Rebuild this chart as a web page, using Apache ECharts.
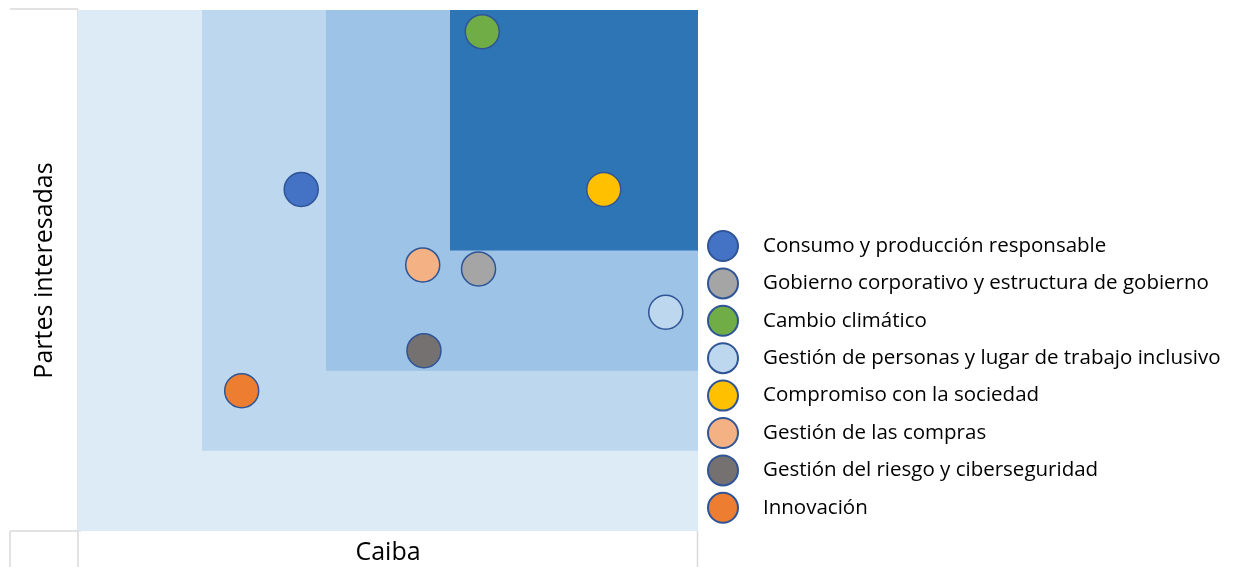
<!DOCTYPE html>
<html>
<head>
<meta charset="utf-8">
<script src="https://cdn.jsdelivr.net/npm/echarts@6/dist/echarts.min.js"></script>
<style>
  html, body { margin: 0; padding: 0; background: #fff; }
  #main { width: 1255px; height: 567px; }
</style>
</head>
<body>
<div id="main"></div>
<script>
'use strict';

// temas materiales
var names = [
    'Consumo y producción responsable',
    'Gobierno corporativo y estructura de gobierno',
    'Cambio climático',
    'Gestión de personas y lugar de trabajo inclusivo',
    'Compromiso con la sociedad',
    'Gestión de las compras',
    'Gestión del riesgo y ciberseguridad',
    'Innovación'
];
var caiba = [1.80, 3.23, 3.26, 4.74, 4.24, 2.78, 2.79, 1.32];
var partes = [4.26, 3.27, 6.23, 2.73, 4.26, 3.32, 2.25, 1.75];
var colors = ['#4472C4', '#A5A5A5', '#70AD47', '#BDD7EE', '#FFC000', '#F4B183', '#767171', '#ED7D31'];

// zonas de la matriz (esquina inferior izquierda)
var bandX = [0, 1, 2, 3];
var bandY = [0, 1, 2, 3.5];
var bandColors = ['#DDEBF7', '#BDD7EE', '#9DC3E6', '#2E75B6'];
var xMax = 5, yMax = 6.5;

var chart = echarts.init(document.getElementById('main'));
var font = '"Open Sans", sans-serif';

var bands = bandX.map(function (x, i) {
    return [{ coord: [x, bandY[i]], itemStyle: { color: bandColors[i] } }, { coord: [xMax, yMax] }];
});

var series = [{
    type: 'scatter',
    data: [],
    z: 1,
    silent: true,
    markArea: { silent: true, data: bands, itemStyle: { opacity: 1 } }
}];
names.forEach(function (n, i) {
    series.push({
        name: n,
        type: 'scatter',
        z: 3,
        symbolSize: 34,
        itemStyle: { color: colors[i], borderColor: '#2F5597', borderWidth: 1.5, opacity: 1 },
        data: [[caiba[i], partes[i]]]
    });
});

var gray = '#D9D9D9';
chart.setOption({
    animation: false,
    textStyle: { fontFamily: font },
    grid: { left: 78, right: 557, top: 10, bottom: 36, outerBoundsMode: 'none', containLabel: false },
    legend: {
        orient: 'vertical',
        left: 702, top: 225,
        icon: 'circle',
        itemWidth: 30, itemHeight: 30,
        itemGap: 5.4,
        textStyle: { fontFamily: font, fontSize: 20.5, color: '#000', padding: [0, 0, 0, 20] },
        data: names
    },
    xAxis: {
        type: 'value', min: 0, max: xMax,
        name: 'Caiba', nameLocation: 'middle', nameGap: 9,
        nameTextStyle: { fontSize: 25, color: '#000', fontFamily: font },
        axisLine: { show: false }, axisTick: { show: false },
        axisLabel: { show: false }, splitLine: { show: false }
    },
    yAxis: {
        type: 'value', min: 0, max: yMax, interval: yMax / 14,
        offset: 68,
        name: 'Partes interesadas', nameLocation: 'middle', nameGap: -35,
        nameTextStyle: { fontSize: 25, color: '#000', fontFamily: font, verticalAlign: 'middle' },
        axisLine: { show: true, lineStyle: { color: gray, width: 1.5 } },
        axisTick: { show: true, inside: true, length: 3, lineStyle: { color: '#E6E6E6' } },
        axisLabel: { show: false }, splitLine: { show: false }
    },
    graphic: [
        { type: 'line', shape: { x1: 10, y1: 9, x2: 78, y2: 9 }, style: { stroke: gray, lineWidth: 1.5 } },
        { type: 'line', shape: { x1: 10, y1: 531, x2: 78, y2: 531 }, style: { stroke: gray, lineWidth: 1.5 } },
        { type: 'line', shape: { x1: 10, y1: 531, x2: 10, y2: 567 }, style: { stroke: gray, lineWidth: 1.5 } },
        { type: 'line', shape: { x1: 78, y1: 531, x2: 78, y2: 567 }, style: { stroke: gray, lineWidth: 1.5 } },
        { type: 'line', shape: { x1: 697.5, y1: 531, x2: 697.5, y2: 567 }, style: { stroke: gray, lineWidth: 1.5 } }
    ],
    series: series
});
</script>
</body>
</html>
